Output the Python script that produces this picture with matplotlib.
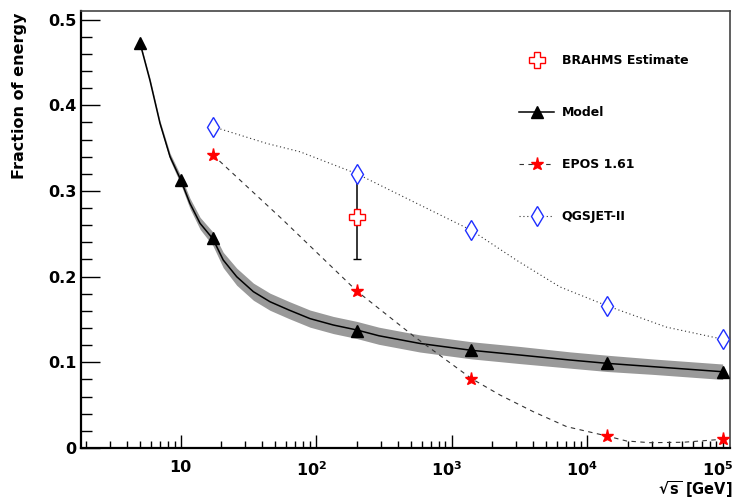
import numpy as np
import matplotlib.pyplot as plt
import matplotlib.transforms as mtransforms
from matplotlib.lines import Line2D
from matplotlib.ticker import FixedLocator, FixedFormatter, NullFormatter

plt.rcParams['font.family'] = 'DejaVu Sans'
plt.rcParams['font.weight'] = 'bold'
plt.rcParams['mathtext.fontset'] = 'dejavusans'
plt.rcParams['mathtext.default'] = 'bf'

# ============================================================
# --- Data ---
# ============================================================
# Model: markers + smooth curve + uncertainty band
model_x = [5, 10, 17.3, 200, 1400, 14000, 100000]
model_y = [0.473, 0.313, 0.245, 0.137, 0.114, 0.099, 0.089]

model_curve_x = [5, 5.93, 7.03, 8.34, 10, 11.7, 13.9, 17.3, 20.6, 25.9, 34.4, 45.6, 63,
                 90, 134, 200, 290, 583, 1400, 3190, 7460, 14000, 30700, 100000]
model_curve_y = [0.473, 0.429, 0.379, 0.340, 0.313, 0.2855, 0.2622, 0.244, 0.2194, 0.1999,
                 0.1824, 0.1707, 0.161, 0.151, 0.1435, 0.1377, 0.131, 0.122, 0.114, 0.1085,
                 0.1027, 0.0988, 0.0949, 0.089]
model_band = [0.002, 0.003, 0.003, 0.004, 0.005, 0.006, 0.007, 0.008, 0.009, 0.010,
              0.010, 0.010, 0.010, 0.010, 0.010, 0.010, 0.010, 0.010, 0.010, 0.010,
              0.0095, 0.0095, 0.009, 0.009]

# EPOS 1.61
epos_x = [17.3, 200, 1400, 14000, 100000]
epos_y = [0.342, 0.183, 0.081, 0.014, 0.0105]
epos_curve_x = [17.3, 57, 200, 525, 1400, 2275, 4000, 7060, 14000, 19500, 29000, 51200, 100000]
epos_curve_y = [0.342, 0.266, 0.183, 0.1305, 0.081, 0.0618, 0.0424, 0.0249, 0.014,
                0.0082, 0.0062, 0.0067, 0.0102]

# QGSJET-II
qgs_x = [17.3, 200, 1400, 14000, 100000]
qgs_y = [0.375, 0.320, 0.254, 0.166, 0.127]
qgs_curve_x = [17.3, 43, 76, 200, 552, 1400, 3020, 6300, 14000, 38600, 100000]
qgs_curve_y = [0.375, 0.3555, 0.3457, 0.320, 0.2855, 0.254, 0.219, 0.188, 0.166, 0.141, 0.127]

# BRAHMS estimate
brahms_x = [200]
brahms_y = [0.27]
brahms_err = [0.05]

xtick_vals = [10, 100, 1000, 10000, 100000]
xtick_labels = ['10', r'$10^{2}$', r'$10^{3}$', r'$10^{4}$', r'$10^{5}$']

ytick_vals = [0, 0.1, 0.2, 0.3, 0.4, 0.5]
ytick_labels = ['0', '0.1', '0.2', '0.3', '0.4', '0.5']

# ============================================================
# --- Plot ---
# ============================================================
fig = plt.figure(figsize=(7.34, 5.01), dpi=100)
ax = fig.add_axes([81 / 734, 1 - 448 / 501, (730 - 81) / 734, (448 - 11) / 501])

mc_x = np.array(model_curve_x)
mc_y = np.array(model_curve_y)
band = np.array(model_band)
ax.fill_between(mc_x, mc_y - band, mc_y + band, color='#999999', lw=0, zorder=1)
ax.plot(mc_x, mc_y, color='black', lw=1.1, zorder=2)
ax.plot(model_x, model_y, ls='none', marker='^', ms=9, color='black', zorder=5)

ax.plot(epos_curve_x, epos_curve_y, color='#333333', lw=0.8, ls=(0, (4, 4)), zorder=2)
ax.plot(epos_x, epos_y, ls='none', marker='*', ms=9.5, color='red', mec='red', zorder=5)

ax.plot(qgs_curve_x, qgs_curve_y, color='#333333', lw=0.8, ls=(0, (1, 2.5)), zorder=2)
ax.plot(qgs_x, qgs_y, ls='none', marker='d', ms=10.5, mfc='white', mec='#1f2fff', mew=1.0, zorder=5)

ax.errorbar(brahms_x, brahms_y, yerr=brahms_err, fmt='none', ecolor='black', elinewidth=1.1,
            capsize=3, capthick=1, zorder=3)
ax.plot(brahms_x, brahms_y, ls='none', marker='P', ms=12, mfc='white', mec='red', mew=1.0, zorder=6)

ax.set_xscale('log')
ax.set_xlim(1.837, 113300)
ax.set_ylim(0, 0.51)

ax.xaxis.set_major_locator(FixedLocator(xtick_vals))
ax.xaxis.set_major_formatter(FixedFormatter(xtick_labels))
minor = [m * 10 ** d for d in range(0, 6) for m in range(2, 10)]
ax.xaxis.set_minor_locator(FixedLocator(minor))
ax.xaxis.set_minor_formatter(NullFormatter())
ax.set_yticks(ytick_vals)
ax.set_yticklabels(ytick_labels)
ax.set_yticks(np.arange(0, 0.51, 0.02), minor=True)

ax.tick_params(axis='y', which='major', direction='in', length=14, width=1, labelsize=11.5, pad=3)
ax.tick_params(axis='y', which='minor', direction='in', length=8, width=1)
ax.tick_params(axis='x', which='major', direction='in', length=9.5, width=1, labelsize=11.5, pad=9)
ax.tick_params(axis='x', which='minor', direction='in', length=5, width=1)

for s in ['left', 'bottom']:
    ax.spines[s].set_linewidth(1.6)
for s in ['top', 'right']:
    ax.spines[s].set_linewidth(1.2)
    ax.spines[s].set_color('#444444')

# exponent labels sit a bit left of their tick, as in the original
shift = mtransforms.ScaledTranslation(-5 / 100, 0, fig.dpi_scale_trans)
for i, t in enumerate(ax.xaxis.get_major_ticks()):
    if i > 0:
        t.label1.set_transform(t.label1.get_transform() + shift)

fig.text(19.5 / 734, 1 - 13 / 501, 'Fraction of energy', rotation=90, ha='center', va='top',
         fontsize=11.5, fontweight='bold')
fig.text(732 / 734, 1 - 500 / 501, r'$\sqrt{s}$ [GeV]', ha='right', va='bottom',
         fontsize=10.5, fontweight='bold')

handles = [
    Line2D([], [], ls='none', marker='P', ms=12, mfc='white', mec='red', mew=1.0),
    Line2D([], [], color='black', lw=1.1, marker='^', ms=9),
    Line2D([], [], color='#333333', lw=0.8, ls=(0, (4, 4)), marker='*', ms=9.5, mfc='red', mec='red'),
    Line2D([], [], color='#333333', lw=0.8, ls=(0, (1, 2.5)), marker='d', ms=10.5, mfc='white', mec='#1f2fff'),
]
labels = ['BRAHMS Estimate', 'Model', 'EPOS 1.61', 'QGSJET-II']
fig.legend(handles, labels, loc='upper left', bbox_to_anchor=(519 / 734, 1 - 54 / 501),
           frameon=False, fontsize=9, labelspacing=3.12, handlelength=2.8, handletextpad=0.6,
           borderpad=0, borderaxespad=0, numpoints=1)

fig.savefig('out.png', dpi=100)
